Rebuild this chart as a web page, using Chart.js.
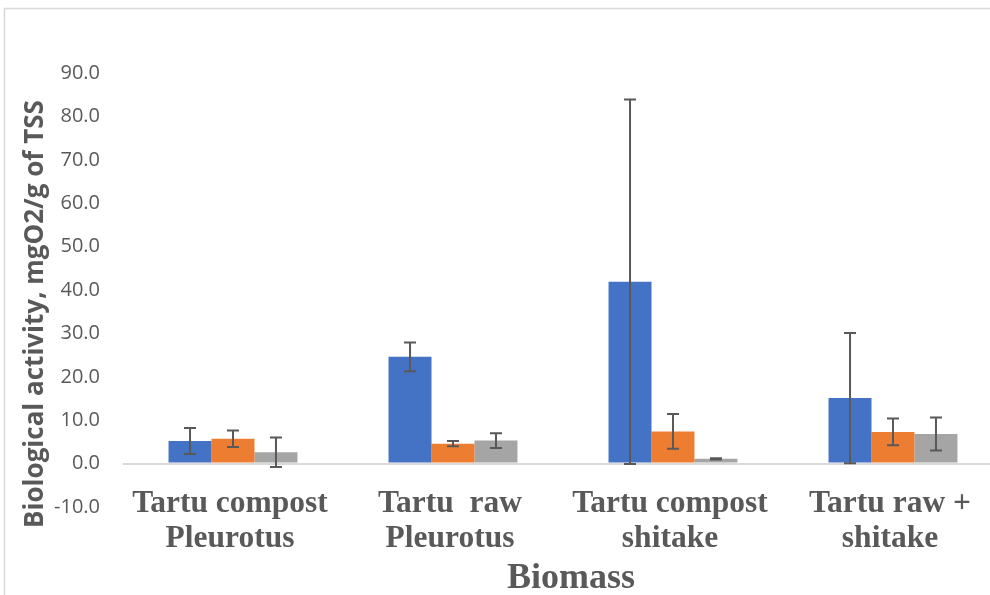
<!DOCTYPE html>
<html>
<head>
<meta charset="utf-8">
<script src="https://cdn.jsdelivr.net/npm/chart.js@4/dist/chart.umd.min.js"></script>
<style>
  html, body { margin: 0; padding: 0; background: #ffffff; overflow: hidden; width: 990px; height: 595px; }
  #wrap { position: absolute; left: 0; top: 0; width: 1010px; height: 595px; }
</style>
</head>
<body>
<div id="wrap"><canvas id="c" width="1010" height="595"></canvas></div>
<script>
const categories = [
  ["Tartu compost", "Pleurotus"],
  ["Tartu  raw", "Pleurotus"],
  ["Tartu compost", "shitake"],
  ["Tartu raw +", "shitake"]
];
const blueValues   = [5.2, 24.6, 41.9, 15.1];
const blueErrors   = [3.0, 3.3, 42.0, 15.0];
const orangeValues = [5.7, 4.6, 7.4, 7.3];
const orangeErrors = [1.9, 0.6, 4.0, 3.1];
const grayValues   = [2.6, 5.3, 1.1, 6.8];
const grayErrors   = [3.4, 1.7, 0.15, 3.8];
const yTitle = "Biological activity, mgO2/g of TSS";
const xTitle = "Biomass";

const errorSets = [blueErrors, orangeErrors, grayErrors];
const textColor = "#595959";

const framePlugin = {
  id: "frame",
  beforeDraw(chart) {
    const ctx = chart.ctx;
    ctx.save();
    ctx.strokeStyle = "#d9d9d9";
    ctx.lineWidth = 1.5;
    ctx.beginPath();
    ctx.moveTo(4.5, 600);
    ctx.lineTo(4.5, 8.5);
    ctx.lineTo(1010, 8.5);
    ctx.stroke();
    ctx.restore();
  }
};

const errorBarPlugin = {
  id: "errorBars",
  afterDatasetsDraw(chart) {
    const ctx = chart.ctx;
    const ys = chart.scales.y;
    ctx.save();
    ctx.strokeStyle = "#595959";
    ctx.lineWidth = 2;
    chart.data.datasets.forEach((ds, i) => {
      const meta = chart.getDatasetMeta(i);
      meta.data.forEach((bar, j) => {
        const v = ds.data[j];
        const e = errorSets[i][j];
        const yT = ys.getPixelForValue(v + e);
        const yB = ys.getPixelForValue(v - e);
        const x = bar.x;
        const hw = 6;
        ctx.beginPath();
        ctx.moveTo(x, yT); ctx.lineTo(x, yB);
        ctx.moveTo(x - hw, yT); ctx.lineTo(x + hw, yT);
        ctx.moveTo(x - hw, yB); ctx.lineTo(x + hw, yB);
        ctx.stroke();
      });
    });
    ctx.restore();
  }
};

const titlePlugin = {
  id: "titles",
  afterDraw(chart) {
    const ctx = chart.ctx;
    const xs = chart.scales.x;
    ctx.save();
    ctx.fillStyle = textColor;
    ctx.textAlign = "center";
    ctx.textBaseline = "alphabetic";
    ctx.font = "bold 31.5px 'Liberation Serif', 'Times New Roman', serif";
    chart.data.labels.forEach((lab, i) => {
      const x = xs.getPixelForTick(i);
      lab.forEach((line, k) => {
        ctx.fillText(line, x - 3, 512 + k * 35);
      });
    });
    ctx.restore();
    ctx.save();
    ctx.fillStyle = textColor;
    ctx.textAlign = "center";
    ctx.textBaseline = "middle";
    ctx.font = "bold 26px 'Open Sans', sans-serif";
    ctx.translate(36, 314);
    ctx.rotate(-Math.PI / 2);
    ctx.fillText(yTitle, 0, 0);
    ctx.restore();
    ctx.save();
    ctx.fillStyle = textColor;
    ctx.textAlign = "center";
    ctx.textBaseline = "alphabetic";
    ctx.font = "bold 36px 'Liberation Serif', 'Times New Roman', serif";
    ctx.fillText(xTitle, 571, 588);
    ctx.restore();
  }
};

new Chart(document.getElementById("c"), {
  type: "bar",
  data: {
    labels: categories,
    datasets: [
      { label: "Series 1", data: blueValues, backgroundColor: "#4472C4" },
      { label: "Series 2", data: orangeValues, backgroundColor: "#ED7D31" },
      { label: "Series 3", data: grayValues, backgroundColor: "#A5A5A5" }
    ]
  },
  options: {
    responsive: false,
    animation: false,
    events: [],
    layout: { padding: { left: 0, right: 7, top: 73, bottom: 0 } },
    datasets: { bar: { categoryPercentage: 0.586, barPercentage: 1.0 } },
    plugins: { legend: { display: false }, tooltip: { enabled: false } },
    scales: {
      x: {
        grid: { display: false, drawTicks: false },
        border: { display: false },
        ticks: { display: false },
        afterFit(scale) { scale.height = 88; }
      },
      y: {
        min: -10,
        max: 90,
        grid: {
          drawTicks: false,
          color: (c) => (c.tick && c.tick.value === 0 ? "#d9d9d9" : "rgba(0,0,0,0)"),
          lineWidth: 2
        },
        border: { display: false },
        ticks: {
          stepSize: 10,
          padding: 23,
          color: textColor,
          font: { family: "'Open Sans', sans-serif", size: 20 },
          callback: (v) => Number(v).toFixed(1)
        },
        afterFit(scale) { scale.width = 123; }
      }
    }
  },
  plugins: [framePlugin, errorBarPlugin, titlePlugin]
});
</script>
</body>
</html>
